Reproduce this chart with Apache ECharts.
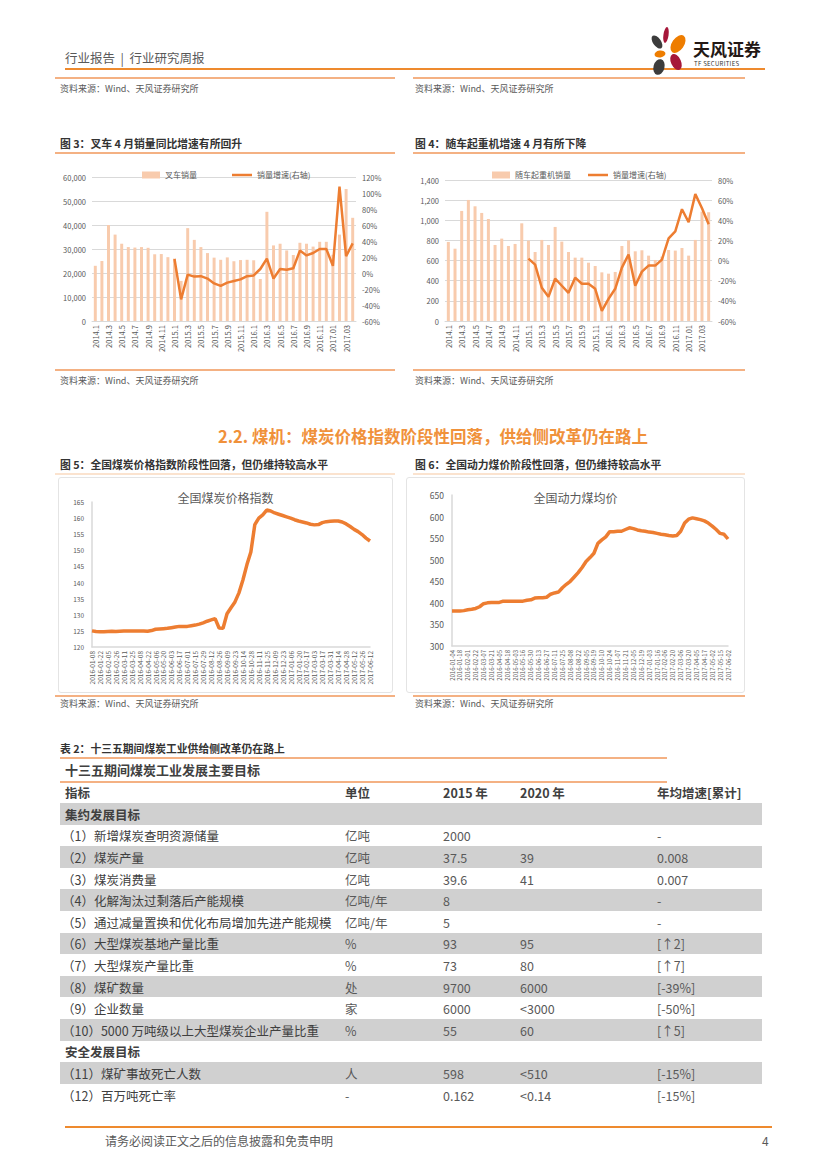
<!DOCTYPE html>
<html><head><meta charset="utf-8">
<script src="https://cdn.jsdelivr.net/npm/echarts@6/dist/echarts.min.js"></script>
<style>
body{margin:0;background:#fff;}
#page{position:relative;width:827px;height:1169px;overflow:hidden;font-family:"Noto Sans CJK SC","Noto Sans",sans-serif;color:#404040;background:#fff;}
.t{position:absolute;white-space:nowrap;transform:translateY(-50%);line-height:1.2;}
.ln{position:absolute;}
.chart{position:absolute;}
.src{font-size:9px;color:#595959;}
.ft{font-size:10.8px;font-weight:bold;color:#333;}
</style></head><body><div id="page">
<div class="t" style="left:65px;top:57px;font-size:12.5px;color:#595959;">行业报告&nbsp;&nbsp;|&nbsp;&nbsp;行业研究周报</div>
<div class="ln" style="left:65px;top:68px;width:700px;height:2px;background:#EE8A2E;"></div>
<svg style="position:absolute;left:645px;top:24px" width="50" height="54" viewBox="0 0 50 54">
  <ellipse cx="21" cy="11" rx="2.6" ry="8" fill="#A6173A" transform="rotate(8 21 11)"/>
  <ellipse cx="33" cy="20" rx="6" ry="10" fill="#EE7D00" transform="rotate(35 33 20)"/>
  <ellipse cx="12" cy="18" rx="4" ry="7.5" fill="#3C3C3C" transform="rotate(-35 12 18)"/>
  <ellipse cx="15" cy="30" rx="5.5" ry="3.5" fill="#EE7D00" transform="rotate(-10 15 30)"/>
  <ellipse cx="31" cy="38" rx="5" ry="8.5" fill="#A6173A" transform="rotate(-25 31 38)"/>
  <ellipse cx="14" cy="43" rx="5.5" ry="8" fill="#3C3C3C" transform="rotate(15 14 43)"/>
</svg>
<div class="t" style="left:693px;top:49px;font-size:17px;font-weight:bold;color:#231815;">天风证券</div>
<div class="t" style="left:694px;top:64px;font-size:6px;color:#333;letter-spacing:0.3px;">TF SECURITIES</div>

<div class="ln" style="left:55px;top:77px;width:340px;height:1.5px;background:#F4B183;"></div>
<div class="ln" style="left:413px;top:77px;width:332px;height:1.5px;background:#F4B183;"></div>
<div class="t src" style="left:60px;top:89px;">资料来源：Wind、天风证券研究所</div>
<div class="t src" style="left:415px;top:89px;">资料来源：Wind、天风证券研究所</div>

<div class="t ft" style="left:60px;top:143px;">图 3：叉车 4 月销量同比增速有所回升</div>
<div class="t ft" style="left:415px;top:143px;">图 4：随车起重机增速 4 月有所下降</div>
<div class="ln" style="left:55px;top:152px;width:340px;height:1.5px;background:#F4B183;"></div>
<div class="ln" style="left:413px;top:152px;width:332px;height:1.5px;background:#F4B183;"></div>
<div id="c3" class="chart" style="left:55px;top:158px;width:340px;height:204px;"></div>
<div id="c4" class="chart" style="left:408px;top:158px;width:340px;height:204px;"></div>
<div class="ln" style="left:55px;top:369px;width:340px;height:1.5px;background:#F4B183;"></div>
<div class="ln" style="left:413px;top:369px;width:332px;height:1.5px;background:#F4B183;"></div>
<div class="t src" style="left:60px;top:381px;">资料来源：Wind、天风证券研究所</div>
<div class="t src" style="left:415px;top:381px;">资料来源：Wind、天风证券研究所</div>

<div class="t" style="left:218px;top:437px;font-size:16.5px;font-weight:bold;color:#F0913A;">2.2. 煤机：煤炭价格指数阶段性回落，供给侧改革仍在路上</div>
<div class="t ft" style="left:60px;top:464px;">图 5：全国煤炭价格指数阶段性回落，但仍维持较高水平</div>
<div class="t ft" style="left:415px;top:464px;">图 6：全国动力煤价阶段性回落，但仍维持较高水平</div>
<div class="ln" style="left:55px;top:473px;width:340px;height:1.5px;background:#FBE3CF;"></div>
<div class="ln" style="left:413px;top:473px;width:332px;height:1.5px;background:#FBE3CF;"></div>
<div id="c5" class="chart" style="left:58px;top:477px;width:335px;height:216px;border:1px solid #E4E4E4;border-radius:3px;box-sizing:border-box;"></div>
<div id="c6" class="chart" style="left:406px;top:477px;width:339px;height:216px;border:1px solid #E4E4E4;border-radius:3px;box-sizing:border-box;"></div>
<div class="ln" style="left:55px;top:695px;width:340px;height:1.5px;background:#F4B183;"></div>
<div class="ln" style="left:413px;top:695px;width:332px;height:1.5px;background:#F4B183;"></div>
<div class="t src" style="left:60px;top:704px;">资料来源：Wind、天风证券研究所</div>
<div class="t src" style="left:415px;top:704px;">资料来源：Wind、天风证券研究所</div>

<div class="t ft" style="left:60px;top:748px;">表 2：十三五期间煤炭工业供给侧改革仍在路上</div>
<div class="ln" style="left:60px;top:757px;width:607px;height:1.5px;background:#F4B183;"></div>
<div class="t" style="left:65px;top:770px;font-size:13px;font-weight:bold;color:#404040;">十三五期间煤炭工业发展主要目标</div>
<div class="ln" style="left:60px;top:781px;width:607px;height:1.5px;background:#F4B183;"></div>
<div id="tbl"></div>

<div class="ln" style="left:65px;top:1126px;width:707px;height:2px;background:#EE8A2E;"></div>
<div class="t" style="left:105px;top:1141px;font-size:12px;color:#595959;">请务必阅读正文之后的信息披露和免责申明</div>
<div class="t" style="left:762px;top:1141px;font-size:12px;color:#595959;">4</div>
</div>
<script>
// ---------- data ----------
const months = ['2014.1','2014.2','2014.3','2014.4','2014.5','2014.6','2014.7','2014.8','2014.9','2014.10','2014.11','2014.12',
'2015.1','2015.2','2015.3','2015.4','2015.5','2015.6','2015.7','2015.8','2015.9','2015.10','2015.11','2015.12',
'2016.1','2016.2','2016.3','2016.4','2016.5','2016.6','2016.7','2016.8','2016.9','2016.10','2016.11','2016.12',
'2017.01','2017.02','2017.03','2017.04'];
const forkliftSales = [23000,25000,40000,36000,32200,30800,30600,30800,30500,27800,27900,26600,
26000,16700,38700,33800,30800,28300,26400,25500,26500,24900,25400,25500,
25300,17500,45500,31500,32200,29400,27500,32600,32200,31000,33000,33000,
27600,36000,55000,43000];
const forkliftGrowth = [null,null,null,null,null,null,null,null,null,null,null,null,
17.5,-33,-2,-4.5,-4,-7,-13,-16,-12,-10,-8,-4,
-3,5,18,-7,5,4,6,28,22,25,30,30,
9,108,21,37];
const craneSales = [785,718,1093,1202,1139,1073,1013,755,818,745,765,970,
798,685,805,755,934,788,685,629,629,579,546,483,
470,487,745,801,692,702,649,606,639,705,699,725,
649,805,1086,1080];
const craneGrowth = [null,null,null,null,null,null,null,null,null,null,null,null,
2,-4,-27,-36,-18,-25,-32,-17,-23,-23,-28,-50,
-38,-28,-7,6,-25,-11,-5,-5,1,22,29,51,
38,66,52,36];
const coalDates = ['2016-01-08','2016-01-15','2016-01-22','2016-01-29','2016-02-05','2016-02-19','2016-02-26','2016-03-04','2016-03-11','2016-03-18','2016-03-25',
'2016-04-01','2016-04-08','2016-04-15','2016-04-22','2016-04-29','2016-05-06','2016-05-13','2016-05-20','2016-05-27','2016-06-03','2016-06-10','2016-06-17','2016-06-24',
'2016-07-01','2016-07-08','2016-07-15','2016-07-22','2016-07-29','2016-08-05','2016-08-12','2016-08-19','2016-08-26','2016-09-02','2016-09-09','2016-09-16','2016-09-23','2016-09-30',
'2016-10-14','2016-10-21','2016-10-28','2016-11-04','2016-11-11','2016-11-18','2016-11-25','2016-12-02','2016-12-09','2016-12-16','2016-12-23','2016-12-30',
'2017-01-06','2017-01-13','2017-01-20','2017-02-10','2017-02-17','2017-02-24','2017-03-03','2017-03-10','2017-03-17','2017-03-24','2017-03-31',
'2017-04-07','2017-04-14','2017-04-21','2017-04-28','2017-05-05','2017-05-12','2017-05-19','2017-05-26','2017-06-02','2017-06-12'];
const coalIndex = [125.0,124.8,124.7,124.7,124.8,124.9,124.8,124.9,125.0,125.0,125.0,
125.0,125.0,125.0,124.9,125.1,125.5,125.6,125.7,125.8,126.0,126.2,126.4,126.4,
126.4,126.6,126.8,127.1,127.5,128.0,128.4,128.8,125.9,125.8,130.3,132.2,134.0,136.8,
140.8,145.5,149.5,158.0,160.0,161.0,162.5,162.2,161.6,161.2,160.8,160.4,
160.0,159.5,159.1,158.8,158.5,158.1,157.9,158.0,158.6,158.9,159.0,
159.1,159.1,158.8,158.2,157.4,156.5,155.8,154.9,153.8,152.9];
const thermalDates = ['2016-01-04','2016-01-11','2016-01-18','2016-01-25','2016-02-01','2016-02-15','2016-02-22','2016-02-29','2016-03-07','2016-03-14','2016-03-21','2016-03-28',
'2016-04-05','2016-04-11','2016-04-18','2016-04-25','2016-05-03','2016-05-09','2016-05-16','2016-05-23','2016-05-30','2016-06-06','2016-06-13','2016-06-20','2016-06-27',
'2016-07-04','2016-07-11','2016-07-18','2016-07-25','2016-08-01','2016-08-08','2016-08-15','2016-08-22','2016-08-29','2016-09-05','2016-09-12','2016-09-19','2016-09-26',
'2016-10-10','2016-10-17','2016-10-24','2016-10-31','2016-11-07','2016-11-14','2016-11-21','2016-11-28','2016-12-05','2016-12-12','2016-12-19','2016-12-26',
'2017-01-03','2017-01-09','2017-01-16','2017-01-23','2017-02-06','2017-02-13','2017-02-20','2017-02-27','2017-03-06','2017-03-13','2017-03-20','2017-03-27',
'2017-04-05','2017-04-10','2017-04-17','2017-04-24','2017-05-02','2017-05-08','2017-05-15','2017-05-22','2017-06-02'];
const thermalPrice = [381,381,381,382,384,385,387,391,398,400,401,401,
401,404,404,404,404,404,404,406,407,411,412,412,413,
420,423,425,435,443,450,460,470,482,496,505,515,538,
546,553,565,565,566,566,570,574,572,569,567,566,
564,563,561,559,558,556,555,556,566,585,594,597,
595,593,590,585,578,570,561,559,548];
const tableHeader = ['指标','单位','2015 年','2020 年','年均增速[累计]'];
const tableRows = [
 ['集约发展目标'],
 ['（1）新增煤炭查明资源储量','亿吨','2000','','-'],
 ['（2）煤炭产量','亿吨','37.5','39','0.008'],
 ['（3）煤炭消费量','亿吨','39.6','41','0.007'],
 ['（4）化解淘汰过剩落后产能规模','亿吨/年','8','','-'],
 ['（5）通过减量置换和优化布局增加先进产能规模','亿吨/年','5','','-'],
 ['（6）大型煤炭基地产量比重','%','93','95','[↑2]'],
 ['（7）大型煤炭产量比重','%','73','80','[↑7]'],
 ['（8）煤矿数量','处','9700','6000','[-39%]'],
 ['（9）企业数量','家','6000','<3000','[-50%]'],
 ['（10）5000 万吨级以上大型煤炭企业产量比重','%','55','60','[↑5]'],
 ['安全发展目标'],
 ['（11）煤矿事故死亡人数','人','598','<510','[-15%]'],
 ['（12）百万吨死亡率','-','0.162','<0.14','[-15%]']
];

// ---------- table ----------
const colX = [65,345,443,520,657];
function addText(x, y, txt, css){
  const d = document.createElement('div');
  d.className = 't';
  d.style.cssText = 'left:'+x+'px;top:'+y+'px;'+css;
  d.textContent = txt;
  document.getElementById('page').appendChild(d);
}
tableHeader.forEach((h,i)=>addText(colX[i], 792, h, 'font-size:12.5px;font-weight:bold;color:#404040;'));
const rowTop = 803, rowH = 21.6;
tableRows.forEach((r,i)=>{
  const top = rowTop + rowH*i;
  if (i % 2 === 0) {
    const b = document.createElement('div');
    b.className='ln';
    b.style.cssText='left:60px;top:'+top+'px;width:702px;height:'+rowH+'px;background:#D0D0D0;';
    document.getElementById('page').appendChild(b);
  }
});
tableRows.forEach((r,i)=>{
  const cy = rowTop + rowH*i + rowH/2;
  if (r.length === 1) {
    addText(colX[0], cy, r[0], 'font-size:12.5px;font-weight:bold;color:#404040;');
  } else {
    r.forEach((c,j)=>{ if(c!=='') addText(colX[j]-(j===0?3:0), cy, c, 'font-size:12.5px;color:'+(j===0?'#404040':'#595959')+';'); });
  }
});

// ---------- charts ----------
const FONT = '"Noto Sans CJK SC","Noto Sans",sans-serif';
const AX = '#595959';
function barLine(el, cats, bars, line, barName, lineName, leftMax, leftInt, rMin, rMax, rInt, grid, lg1, lg2){
  const ch = echarts.init(document.getElementById(el), null, {renderer:'svg'});
  ch.setOption({
    animation:false,
    textStyle:{fontFamily:FONT},
    legend:[
      {top:8,left:lg1,itemWidth:18,itemHeight:7,itemGap:4,textStyle:{fontSize:8,color:AX},data:[{name:barName,icon:'rect'}]},
      {top:8,left:lg2,itemWidth:20,itemHeight:2.5,textStyle:{fontSize:8,color:AX},data:[{name:lineName,icon:'rect'}]}
    ],
    grid:grid,
    xAxis:{type:'category',data:cats,axisTick:{show:false},axisLine:{lineStyle:{color:'#D9D9D9'}},
      axisLabel:{interval:1,rotate:90,fontSize:7.5,color:AX,margin:4}},
    yAxis:[
      {type:'value',min:0,max:leftMax,interval:leftInt,axisLine:{show:false},axisTick:{show:false},
       axisLabel:{fontSize:7.5,color:AX,margin:6,formatter:v=>v.toLocaleString('en-US')},
       splitLine:{lineStyle:{color:'#D9D9D9',width:1}}},
      {type:'value',min:rMin,max:rMax,interval:rInt,axisLine:{show:false},axisTick:{show:false},
       axisLabel:{fontSize:7.5,color:AX,margin:6,formatter:'{value}%'},splitLine:{show:false}}
    ],
    series:[
      {name:barName,type:'bar',data:bars,barWidth:'45%',itemStyle:{color:'#F8CBAD'}},
      {name:lineName,type:'line',yAxisIndex:1,data:line,symbol:'none',connectNulls:false,
       lineStyle:{width:2.5,color:'#ED7D31'},itemStyle:{color:'#ED7D31'}}
    ]
  });
}
barLine('c3', months, forkliftSales, forkliftGrowth, '叉车销量', '销量增速(右轴)', 60000, 10000, -60, 120, 20,
  {left:37,right:39,top:19,bottom:41}, 82, 172);
barLine('c4', months, craneSales, craneGrowth, '随车起重机销量', '销量增速(右轴)', 1400, 200, -60, 80, 20,
  {left:37,right:36,top:22,bottom:41}, 79, 175);

function single(el, title, cats, vals, ymin, ymax, yint, grid, xfs, yfs){
  const ch = echarts.init(document.getElementById(el), null, {renderer:'svg'});
  ch.setOption({
    animation:false,
    textStyle:{fontFamily:FONT},
    title:{text:title,left:'center',top:8,textStyle:{fontSize:12,fontWeight:'normal',color:AX,fontFamily:FONT}},
    grid:grid,
    xAxis:{type:'category',data:cats,boundaryGap:false,axisTick:{show:false},axisLine:{lineStyle:{color:'#D9D9D9',width:1.5}},
      axisLabel:{interval:1,rotate:90,fontSize:xfs,color:AX,margin:4}},
    yAxis:{type:'value',min:ymin,max:ymax,interval:yint,axisLine:{show:true,lineStyle:{color:'#D9D9D9',width:1.5}},axisTick:{show:false},
      axisLabel:{fontSize:yfs,color:AX,margin:8},splitLine:{show:false}},
    series:[{type:'line',data:vals,symbol:'none',lineStyle:{width:3.5,color:'#ED7D31'},itemStyle:{color:'#ED7D31'}}]
  });
}
single('c5','全国煤炭价格指数',coalDates,coalIndex,120,165,5,{left:33,right:22,top:24,bottom:45},6.5,6.5);
single('c6','全国动力煤均价',thermalDates,thermalPrice,300,650,50,{left:45,right:16,top:17,bottom:46},6,8.5);
</script>
</body></html>
